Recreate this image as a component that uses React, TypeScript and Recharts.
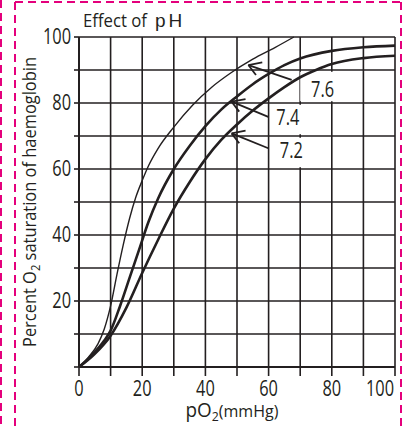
import {
  CartesianGrid,
  Label,
  Line,
  LineChart,
  ReferenceArea,
  ReferenceDot,
  ReferenceLine,
  XAxis,
  YAxis,
} from "recharts"

// oxygen dissociation curves (pO2 in mmHg, % saturation)
const ph76P = [0, 3, 6, 8, 10, 12, 14, 16, 18, 20, 22, 25, 30, 36, 42, 48, 55, 62, 68]
const ph76Sat = [0, 3, 7, 11.5, 18.5, 28, 37, 45, 51.5, 56.5, 61, 66.2, 72.7, 79.4, 84.8, 89.1, 93.3, 96.8, 100]

const ph74P = [0, 4, 8, 10, 13, 16, 19, 22, 25, 30, 35, 40, 45, 50, 55, 60, 65, 70, 80, 90, 100]
const ph74Sat = [0, 3.5, 8, 11, 18.5, 27, 35.5, 44, 51, 60, 67, 73, 78, 82, 85.7, 88.8, 91.5, 93.5, 95.8, 96.9, 97.4]

const ph72P = [0, 5, 10, 15, 20, 25, 30, 35, 40, 45, 50, 55, 60, 65, 70, 75, 80, 90, 100]
const ph72Sat = [0, 4, 9.5, 18, 28.5, 38.5, 48, 56, 63, 68.8, 73.5, 77.7, 81.4, 84.8, 87.8, 90, 91.8, 93.6, 94.3]

const gridTicks = [0, 10, 20, 30, 40, 50, 60, 70, 80, 90, 100]
const xLabels = [0, 20, 40, 60, 80, 100]
const yLabels = [20, 40, 60, 80, 100]

const ink = "#231f20"
const font = '"Open Sans", "Noto Sans", sans-serif'
const squeeze = 0.78

const zip = (p: number[], s: number[]) => p.map((v, i) => ({ p: v, sat: s[i] }))

// pH labels with the arrow pointing at each curve
const annotations = [
  { text: "7.6", at: [77.1, 84.1], box: [70, 89.5, 80.5, 89.5], tail: [67.3, 87], head: [53.6, 91.5] },
  { text: "7.4", at: [66.1, 75.6], box: [61, 78.5, 70.5, 79.5], tail: [59.9, 75.8], head: [48.3, 80.4] },
  { text: "7.2", at: [67.2, 65.5], box: [61, 76.5, 60.5, 69.5], tail: [59.9, 66.3], head: [48.3, 70.8] },
]

function Narrow({ x, y, anchor, dy, size, children }: any) {
  return (
    <text
      transform={`translate(${x}, ${y}) scale(${squeeze}, 1)`}
      dy={dy}
      textAnchor={anchor}
      fontSize={size}
      fontFamily={font}
      fill={ink}
    >
      {children}
    </text>
  )
}

function XTick({ x, y, payload }: any) {
  if (!xLabels.includes(payload.value)) return null
  return (
    <Narrow x={x} y={y} dy="0.71em" size={21} anchor={payload.value === 100 ? "end" : "middle"}>
      {payload.value}
    </Narrow>
  )
}

function YTick({ x, y, payload }: any) {
  if (!yLabels.includes(payload.value)) return null
  return (
    <Narrow x={x} y={y} dy="0.355em" size={21} anchor="end">
      {payload.value}
    </Narrow>
  )
}

function PhLabel({ viewBox, value }: any) {
  const cx = viewBox.x + (viewBox.width || 0) / 2
  const cy = viewBox.y + (viewBox.height || 0) / 2
  return (
    <Narrow x={cx} y={cy} dy="0.355em" size={21} anchor="middle">
      {value}
    </Narrow>
  )
}

function YTitle({ viewBox }: any) {
  const cx = viewBox.x + 36
  const cy = viewBox.y + viewBox.height / 2
  return (
    <text
      x={cx}
      y={cy}
      textAnchor="middle"
      transform={`rotate(-90, ${cx}, ${cy})`}
      fontSize={19}
      fontFamily={font}
      fill={ink}
      textLength={290}
      lengthAdjust="spacingAndGlyphs"
    >
      Percent O
      <tspan fontSize={13} dy={4}>2</tspan>
      <tspan dy={-4}> saturation of haemoglobin</tspan>
    </text>
  )
}

function XTitle({ viewBox }: any) {
  const cx = viewBox.x + viewBox.width / 2 - 5
  return (
    <text
      x={cx}
      y={417}
      textAnchor="middle"
      fontSize={20}
      fontFamily={font}
      fill={ink}
      textLength={93}
      lengthAdjust="spacingAndGlyphs"
    >
      pO
      <tspan fontSize={13} dy={4}>2</tspan>
      <tspan fontSize={17} dy={-4}>(mmHg)</tspan>
    </text>
  )
}

export default function App() {
  const dash = "#e4007c"
  return (
    <div style={{ position: "absolute", left: 0, top: 0, width: 406, height: 427, background: "#fff" }}>
      <LineChart width={406} height={427} margin={{ top: 37, right: 11, bottom: 0, left: 0 }}>
        <CartesianGrid stroke={ink} strokeWidth={1.6} />
        <XAxis
          type="number"
          dataKey="p"
          domain={[0, 100]}
          ticks={gridTicks}
          height={60}
          tick={<XTick />}
          tickSize={9}
          tickMargin={5}
          axisLine={{ stroke: ink, strokeWidth: 2 }}
          tickLine={{ stroke: ink, strokeWidth: 1.6 }}
          label={<XTitle />}
        />
        <YAxis
          type="number"
          domain={[0, 100]}
          ticks={gridTicks}
          width={79}
          tick={<YTick />}
          tickSize={5}
          tickMargin={3}
          axisLine={{ stroke: ink, strokeWidth: 2 }}
          tickLine={{ stroke: ink, strokeWidth: 1.6 }}
          label={<YTitle />}
        />
        {annotations.map((a) => (
          <ReferenceArea
            key={"box" + a.text}
            x1={a.box[0]}
            x2={a.box[1]}
            y1={a.box[2]}
            y2={a.box[3]}
            fill="#fff"
            fillOpacity={1}
            stroke="none"
          />
        ))}
        <Line data={zip(ph76P, ph76Sat)} dataKey="sat" type="monotone" stroke={ink} strokeWidth={1.4} dot={false} isAnimationActive={false} />
        <Line data={zip(ph74P, ph74Sat)} dataKey="sat" type="monotone" stroke={ink} strokeWidth={2.6} dot={false} isAnimationActive={false} />
        <Line data={zip(ph72P, ph72Sat)} dataKey="sat" type="monotone" stroke={ink} strokeWidth={2.6} dot={false} isAnimationActive={false} />
        {annotations.map((a) => [
          <ReferenceLine
            key={"shaft" + a.text}
            segment={[{ x: a.tail[0], y: a.tail[1] }, { x: a.head[0], y: a.head[1] }]}
            stroke={ink}
            strokeWidth={1.8}
          />,
          <ReferenceLine
            key={"barbA" + a.text}
            segment={[{ x: a.head[0] + 4.4, y: a.head[1] + 0.8 }, { x: a.head[0], y: a.head[1] }]}
            stroke={ink}
            strokeWidth={1.8}
          />,
          <ReferenceLine
            key={"barbB" + a.text}
            segment={[{ x: a.head[0] + 2.4, y: a.head[1] - 3.0 }, { x: a.head[0], y: a.head[1] }]}
            stroke={ink}
            strokeWidth={1.8}
          />,
          <ReferenceDot key={"lbl" + a.text} x={a.at[0]} y={a.at[1]} r={0} fill="none" stroke="none">
            <Label value={a.text} position="center" content={<PhLabel />} />
          </ReferenceDot>,
        ])}
      </LineChart>
      <svg
        width={406}
        height={427}
        style={{ position: "absolute", left: 0, top: 0, pointerEvents: "none" }}
      >
        <g stroke={dash} strokeWidth={2} strokeDasharray="8 5" fill="none">
          <line x1={1} y1={0} x2={1} y2={427} />
          <line x1={15} y1={2} x2={15} y2={427} />
          <line x1={15} y1={2} x2={401} y2={2} />
          <line x1={401} y1={2} x2={401} y2={427} />
        </g>
        <text x={83} y={27} fontSize={19} fontFamily={font} fill={ink} textLength={64} lengthAdjust="spacingAndGlyphs">
          Effect of
        </text>
        <text x={155} y={27} fontSize={19} fontFamily='"Liberation Sans", sans-serif' letterSpacing={3} fill={ink}>
          pH
        </text>
      </svg>
    </div>
  )
}
